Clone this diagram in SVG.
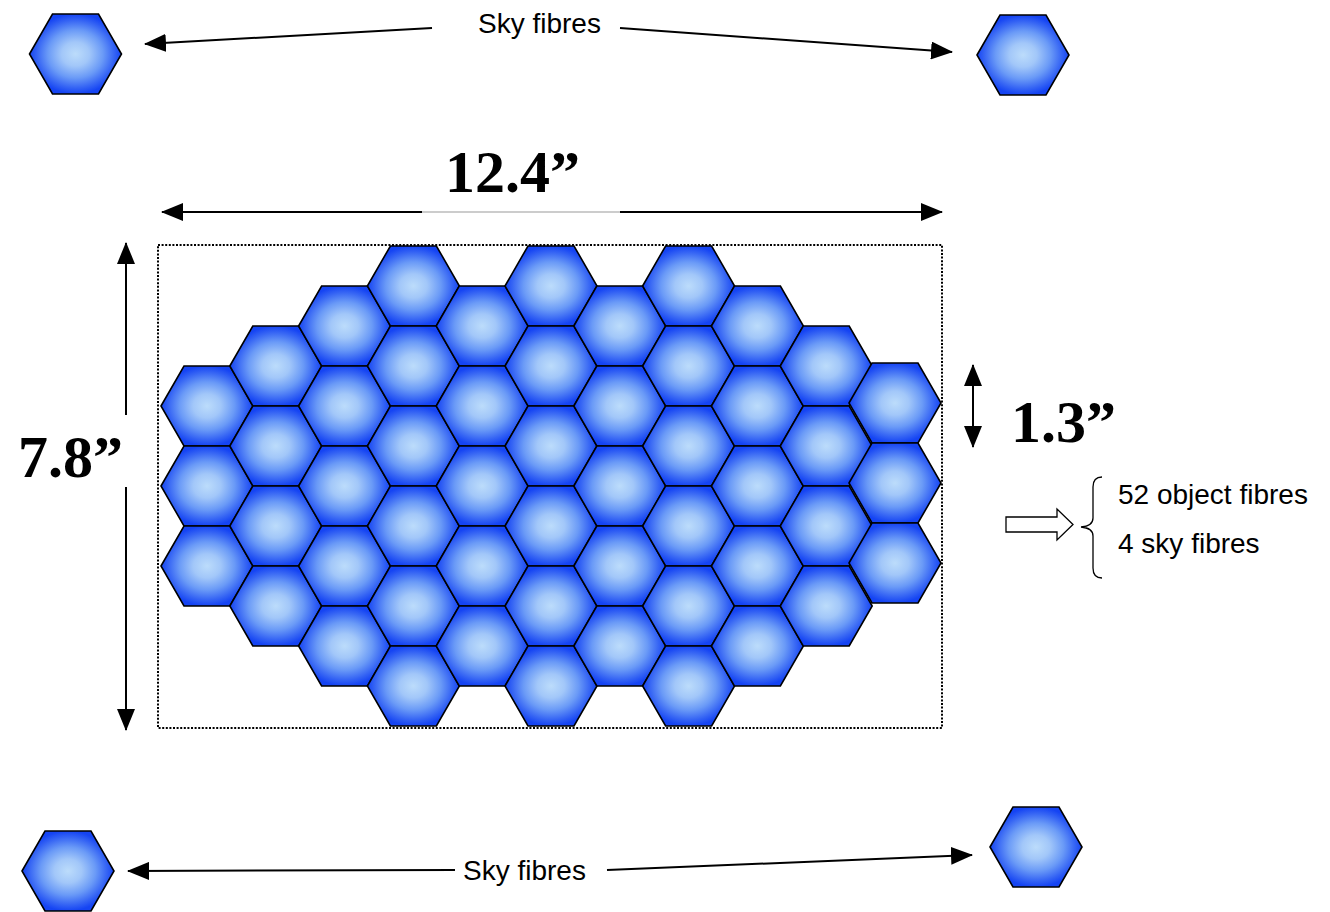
<svg xmlns="http://www.w3.org/2000/svg" xmlns:xlink="http://www.w3.org/1999/xlink" width="1330" height="912" viewBox="0 0 1330 912">
<style>
.dim{font-family:"Liberation Serif","Times New Roman",serif;font-weight:bold;font-size:60px;fill:#000}
.lbl{font-family:"Liberation Sans",Arial,sans-serif;font-size:28px;fill:#000}
.ln{stroke:#000;stroke-width:2;fill:none}
.ar{marker-end:url(#ah)}
.ar2{marker-start:url(#ah);marker-end:url(#ah)}
</style>
<defs>
<radialGradient id="g" cx="0.5" cy="0.5" r="0.5">
<stop offset="0" stop-color="#bcdcfb"/>
<stop offset="0.3" stop-color="#a2c7f9"/>
<stop offset="0.6" stop-color="#6a9af7"/>
<stop offset="0.85" stop-color="#3463f4"/>
<stop offset="1" stop-color="#1544f3"/>
</radialGradient>
<path id="hx" d="M-46,0 L-23,-40 L23,-40 L46,0 L23,40 L-23,40 Z" fill="url(#g)" stroke="#000" stroke-width="1.6" stroke-linejoin="miter"/>
<marker id="ah" viewBox="0 0 22 18" refX="21" refY="9" markerWidth="22" markerHeight="18" markerUnits="userSpaceOnUse" orient="auto-start-reverse">
<path d="M0,0 L22,9 L0,18 Z" fill="#000"/>
</marker>
</defs>
<rect width="1330" height="912" fill="#fff"/>

<g id="sky-fibres">
<g id="sky-tl"><use href="#hx" x="75.5" y="54"/></g>
<g id="sky-tr"><use href="#hx" x="1023" y="55"/></g>
<g id="sky-bl"><use href="#hx" x="68" y="871"/></g>
<g id="sky-br"><use href="#hx" x="1036" y="847"/></g>
</g>

<rect id="field" x="158" y="245" width="784" height="483" fill="none" stroke="#000" stroke-width="2" stroke-dasharray="2 1.6"/>

<g id="ifu">
<g id="c0r0"><use href="#hx" x="207" y="406"/></g>
<g id="c0r1"><use href="#hx" x="207" y="486"/></g>
<g id="c0r2"><use href="#hx" x="207" y="566"/></g>
<g id="c1r0"><use href="#hx" x="275.8" y="366"/></g>
<g id="c1r1"><use href="#hx" x="275.8" y="446"/></g>
<g id="c1r2"><use href="#hx" x="275.8" y="526"/></g>
<g id="c1r3"><use href="#hx" x="275.8" y="606"/></g>
<g id="c2r0"><use href="#hx" x="344.6" y="326"/></g>
<g id="c2r1"><use href="#hx" x="344.6" y="406"/></g>
<g id="c2r2"><use href="#hx" x="344.6" y="486"/></g>
<g id="c2r3"><use href="#hx" x="344.6" y="566"/></g>
<g id="c2r4"><use href="#hx" x="344.6" y="646"/></g>
<g id="c3r0"><use href="#hx" x="413.4" y="286"/></g>
<g id="c3r1"><use href="#hx" x="413.4" y="366"/></g>
<g id="c3r2"><use href="#hx" x="413.4" y="446"/></g>
<g id="c3r3"><use href="#hx" x="413.4" y="526"/></g>
<g id="c3r4"><use href="#hx" x="413.4" y="606"/></g>
<g id="c3r5"><use href="#hx" x="413.4" y="686"/></g>
<g id="c4r0"><use href="#hx" x="482.2" y="326"/></g>
<g id="c4r1"><use href="#hx" x="482.2" y="406"/></g>
<g id="c4r2"><use href="#hx" x="482.2" y="486"/></g>
<g id="c4r3"><use href="#hx" x="482.2" y="566"/></g>
<g id="c4r4"><use href="#hx" x="482.2" y="646"/></g>
<g id="c5r0"><use href="#hx" x="551" y="286"/></g>
<g id="c5r1"><use href="#hx" x="551" y="366"/></g>
<g id="c5r2"><use href="#hx" x="551" y="446"/></g>
<g id="c5r3"><use href="#hx" x="551" y="526"/></g>
<g id="c5r4"><use href="#hx" x="551" y="606"/></g>
<g id="c5r5"><use href="#hx" x="551" y="686"/></g>
<g id="c6r0"><use href="#hx" x="619.8" y="326"/></g>
<g id="c6r1"><use href="#hx" x="619.8" y="406"/></g>
<g id="c6r2"><use href="#hx" x="619.8" y="486"/></g>
<g id="c6r3"><use href="#hx" x="619.8" y="566"/></g>
<g id="c6r4"><use href="#hx" x="619.8" y="646"/></g>
<g id="c7r0"><use href="#hx" x="688.6" y="286"/></g>
<g id="c7r1"><use href="#hx" x="688.6" y="366"/></g>
<g id="c7r2"><use href="#hx" x="688.6" y="446"/></g>
<g id="c7r3"><use href="#hx" x="688.6" y="526"/></g>
<g id="c7r4"><use href="#hx" x="688.6" y="606"/></g>
<g id="c7r5"><use href="#hx" x="688.6" y="686"/></g>
<g id="c8r0"><use href="#hx" x="757.4" y="326"/></g>
<g id="c8r1"><use href="#hx" x="757.4" y="406"/></g>
<g id="c8r2"><use href="#hx" x="757.4" y="486"/></g>
<g id="c8r3"><use href="#hx" x="757.4" y="566"/></g>
<g id="c8r4"><use href="#hx" x="757.4" y="646"/></g>
<g id="c9r0"><use href="#hx" x="826.2" y="366"/></g>
<g id="c9r1"><use href="#hx" x="826.2" y="446"/></g>
<g id="c9r2"><use href="#hx" x="826.2" y="526"/></g>
<g id="c9r3"><use href="#hx" x="826.2" y="606"/></g>
<g id="c10r0"><use href="#hx" x="895" y="403"/></g>
<g id="c10r1"><use href="#hx" x="895" y="483"/></g>
<g id="c10r2"><use href="#hx" x="895" y="563"/></g>
</g>

<g id="connectors">
<line class="ln ar" x1="432" y1="28" x2="145" y2="44"/>
<line class="ln ar" x1="620" y1="28" x2="952" y2="52"/>
<line class="ln ar" x1="455" y1="870" x2="128" y2="871"/>
<line class="ln ar" x1="607" y1="870" x2="972" y2="855"/>
<line class="ln" x1="162" y1="212" x2="422" y2="212" marker-start="url(#ah)"/>
<line x1="422" y1="212" x2="620" y2="212" stroke="#999" stroke-width="1"/>
<line class="ln ar" x1="620" y1="212" x2="942" y2="212"/>
<line class="ln" x1="126" y1="415" x2="126" y2="243" marker-end="url(#ah)"/>
<line class="ln ar" x1="126" y1="487" x2="126" y2="730"/>
<line class="ln ar2" x1="973" y1="365" x2="973" y2="447"/>
<path d="M1006,517 L1057,517 L1057,509 L1073,524.5 L1057,540 L1057,532 L1006,532 Z" fill="#fff" stroke="#000" stroke-width="1.3"/>
<path d="M1102,477 Q1093,477 1093,487 L1093,518 Q1093,526 1081,527 Q1093,528 1093,536 L1093,568 Q1093,578 1102,578" fill="none" stroke="#000" stroke-width="1.3"/>
</g>

<g id="labels">
<text class="lbl" x="478" y="33">Sky fibres</text>
<text class="lbl" x="463" y="880">Sky fibres</text>
<text class="dim" x="445" y="192">12.4”</text>
<text class="dim" x="18" y="477">7.8”</text>
<text class="dim" x="1011" y="442">1.3”</text>
<text class="lbl" x="1118" y="504">52 object fibres</text>
<text class="lbl" x="1118" y="553">4 sky fibres</text>
</g>
</svg>
